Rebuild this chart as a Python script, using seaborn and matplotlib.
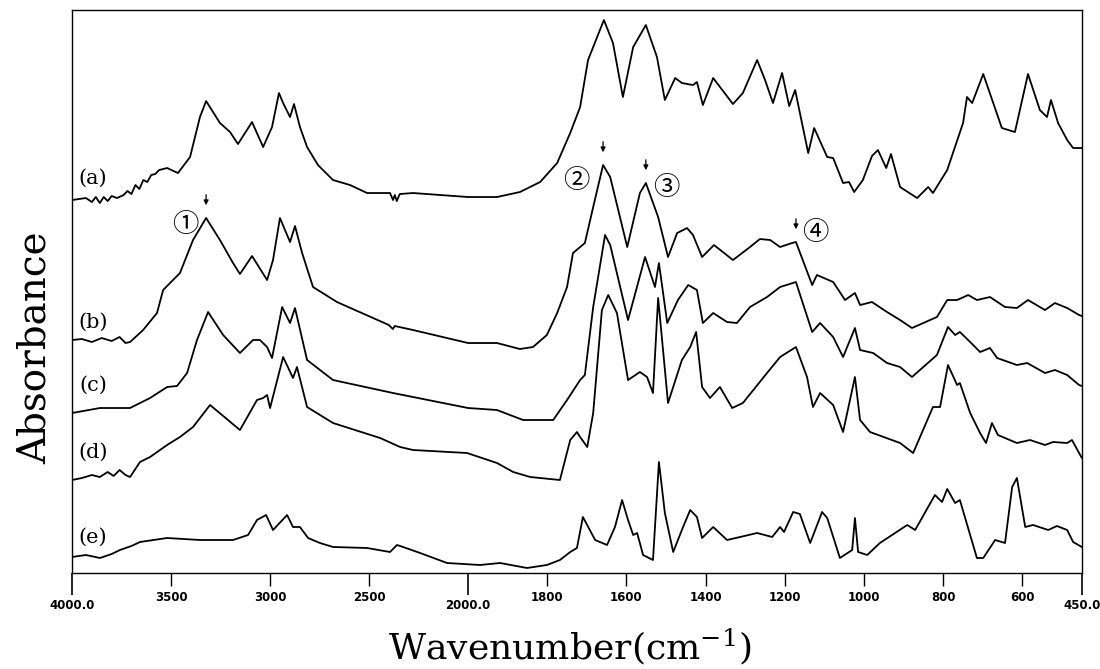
import numpy as np
import pandas as pd
import matplotlib
matplotlib.use("Agg")
import matplotlib.pyplot as plt
import seaborn as sns

# FTIR spectra (absorbance in arbitrary, offset units)
wn_a = [4000, 3930, 3900, 3880, 3860, 3840, 3820, 3800, 3773, 3740, 3720, 3700, 3680, 3660, 3640, 3620, 3600,
        3580, 3560, 3520, 3465, 3404, 3354, 3323, 3253, 3202, 3162, 3091, 3035, 2990, 2955, 2934, 2899, 2879,
        2849, 2813, 2758, 2682, 2596, 2510, 2394, 2379, 2370, 2360, 2345, 2278, 2000, 1927, 1869, 1818, 1775,
        1742, 1717, 1697, 1674, 1657, 1634, 1609, 1583, 1551, 1523, 1503, 1477, 1460, 1432, 1422, 1407, 1381,
        1331, 1306, 1270, 1250, 1230, 1207, 1189, 1174, 1141, 1126, 1093, 1078, 1053, 1038, 1025, 1003, 980,
        965, 944, 932, 909, 866, 838, 826, 790, 750, 740, 727, 699, 652, 619, 586, 556, 538, 528, 510, 487,
        472, 455, 450]
abs_a = [3.73, 3.75, 3.71, 3.76, 3.70, 3.76, 3.72, 3.77, 3.75, 3.78, 3.82, 3.79, 3.88, 3.84, 3.93, 3.91, 3.98,
         3.99, 4.03, 4.05, 4.00, 4.16, 4.56, 4.72, 4.50, 4.41, 4.29, 4.51, 4.26, 4.46, 4.80, 4.70, 4.56, 4.69,
         4.46, 4.26, 4.08, 3.93, 3.88, 3.80, 3.80, 3.73, 3.78, 3.72, 3.79, 3.80, 3.76, 3.76, 3.81, 3.91, 4.10,
         4.40, 4.66, 5.13, 5.36, 5.53, 5.30, 4.76, 5.26, 5.48, 5.16, 4.73, 4.95, 4.90, 4.88, 4.91, 4.68, 4.95,
         4.69, 4.80, 5.13, 4.93, 4.70, 5.00, 4.67, 4.83, 4.20, 4.45, 4.16, 4.15, 3.90, 3.91, 3.81, 3.93, 4.17,
         4.23, 4.05, 4.19, 3.86, 3.75, 3.86, 3.80, 4.03, 4.50, 4.76, 4.70, 4.99, 4.45, 4.41, 4.99, 4.63, 4.56,
         4.73, 4.50, 4.33, 4.25, 4.25, 4.25]

wn_b = [4000, 3950, 3900, 3850, 3800, 3760, 3730, 3707, 3641, 3571, 3540, 3455, 3389, 3323, 3253, 3187, 3152,
        3091, 3015, 2985, 2950, 2899, 2874, 2838, 2783, 2662, 2400, 2380, 2370, 2278, 2000, 1927, 1869, 1836,
        1801, 1775, 1750, 1735, 1705, 1684, 1659, 1641, 1598, 1566, 1551, 1520, 1495, 1472, 1447, 1432, 1409,
        1379, 1331, 1288, 1263, 1237, 1212, 1182, 1172, 1131, 1119, 1078, 1048, 1023, 1010, 980, 942, 909,
        879, 816, 790, 765, 737, 715, 682, 644, 614, 586, 543, 518, 487, 457, 450]
abs_b = [2.33, 2.34, 2.31, 2.35, 2.32, 2.36, 2.30, 2.31, 2.43, 2.60, 2.83, 3.00, 3.33, 3.55, 3.33, 3.10, 2.99,
         3.17, 2.93, 3.13, 3.55, 3.31, 3.47, 3.20, 2.86, 2.71, 2.48, 2.44, 2.47, 2.43, 2.30, 2.30, 2.24, 2.26,
         2.38, 2.60, 2.86, 3.20, 3.30, 3.66, 4.08, 3.96, 3.26, 3.80, 3.90, 3.56, 3.16, 3.40, 3.45, 3.38, 3.16,
         3.28, 3.13, 3.26, 3.34, 3.33, 3.26, 3.30, 3.31, 2.88, 2.98, 2.91, 2.73, 2.80, 2.68, 2.71, 2.61, 2.53,
         2.45, 2.56, 2.73, 2.73, 2.78, 2.73, 2.76, 2.66, 2.65, 2.73, 2.63, 2.70, 2.65, 2.58, 2.57]

wn_c = [4000, 3859, 3707, 3606, 3520, 3470, 3419, 3369, 3313, 3237, 3152, 3086, 3051, 3015, 2990, 2939, 2899,
        2874, 2813, 2682, 2379, 2000, 1927, 1861, 1785, 1750, 1717, 1705, 1684, 1654, 1641, 1596, 1553, 1528,
        1518, 1497, 1470, 1444, 1422, 1407, 1381, 1346, 1321, 1288, 1245, 1212, 1172, 1131, 1111, 1078, 1053,
        1023, 1010, 977, 942, 909, 879, 816, 788, 770, 758, 732, 707, 682, 664, 614, 588, 543, 518, 487, 457,
        450]
abs_c = [1.60, 1.65, 1.65, 1.75, 1.86, 1.87, 2.00, 2.33, 2.61, 2.38, 2.20, 2.33, 2.33, 2.26, 2.15, 2.66, 2.50,
         2.65, 2.13, 1.93, 1.80, 1.65, 1.63, 1.53, 1.53, 1.73, 1.93, 1.98, 2.66, 3.38, 3.28, 2.53, 3.16, 2.86,
         3.10, 2.50, 2.73, 2.88, 2.83, 2.50, 2.60, 2.51, 2.50, 2.66, 2.76, 2.86, 2.91, 2.41, 2.50, 2.36, 2.16,
         2.45, 2.23, 2.20, 2.10, 2.06, 1.96, 2.18, 2.46, 2.38, 2.41, 2.31, 2.21, 2.25, 2.15, 2.08, 2.10, 2.00,
         2.03, 1.98, 1.88, 1.87]

wn_d = [4000, 3950, 3900, 3860, 3820, 3790, 3760, 3730, 3707, 3657, 3606, 3520, 3455, 3389, 3303, 3152, 3066,
        3035, 3015, 3000, 2934, 2884, 2864, 2813, 2682, 2444, 2343, 2278, 2005, 1927, 1886, 1843, 1768, 1742,
        1725, 1717, 1699, 1684, 1662, 1646, 1624, 1596, 1566, 1548, 1533, 1520, 1495, 1460, 1439, 1424, 1409,
        1389, 1364, 1333, 1306, 1245, 1212, 1172, 1144, 1129, 1111, 1078, 1053, 1023, 1010, 985, 909, 876,
        826, 808, 788, 765, 758, 732, 707, 692, 677, 662, 614, 581, 543, 523, 487, 475, 450]
abs_d = [0.93, 0.95, 0.98, 0.96, 1.01, 0.97, 1.03, 0.98, 0.96, 1.11, 1.16, 1.28, 1.36, 1.46, 1.68, 1.43, 1.73,
         1.75, 1.78, 1.65, 2.16, 1.95, 2.06, 1.66, 1.50, 1.35, 1.26, 1.23, 1.20, 1.10, 1.01, 0.96, 0.93, 1.33,
         1.41, 1.36, 1.26, 1.60, 2.63, 2.78, 2.60, 1.93, 2.01, 1.96, 1.80, 2.75, 1.70, 2.13, 2.26, 2.41, 1.86,
         1.75, 1.86, 1.65, 1.70, 2.00, 2.16, 2.26, 1.96, 1.66, 1.80, 1.68, 1.41, 1.96, 1.53, 1.41, 1.30, 1.20,
         1.66, 1.66, 2.08, 1.88, 1.90, 1.60, 1.40, 1.30, 1.50, 1.38, 1.30, 1.33, 1.28, 1.31, 1.30, 1.33, 1.15]

wn_e = [4000, 3930, 3859, 3800, 3758, 3700, 3657, 3520, 3354, 3187, 3111, 3066, 3020, 2985, 2914, 2884, 2849,
        2808, 2748, 2682, 2510, 2394, 2359, 2328, 2242, 2106, 1970, 1919, 1851, 1801, 1768, 1742, 1725, 1710,
        1679, 1649, 1629, 1611, 1596, 1583, 1573, 1558, 1533, 1518, 1503, 1482, 1457, 1439, 1422, 1409, 1381,
        1346, 1313, 1270, 1232, 1212, 1202, 1179, 1162, 1136, 1106, 1093, 1061, 1030, 1023, 1015, 992, 960,
        891, 871, 821, 803, 790, 770, 758, 715, 699, 669, 644, 626, 614, 593, 573, 535, 513, 487, 472, 450]
abs_e = [0.16, 0.18, 0.15, 0.19, 0.23, 0.27, 0.31, 0.35, 0.33, 0.33, 0.38, 0.53, 0.58, 0.43, 0.58, 0.46, 0.46,
         0.35, 0.30, 0.26, 0.25, 0.21, 0.28, 0.26, 0.20, 0.10, 0.08, 0.10, 0.05, 0.08, 0.13, 0.21, 0.25, 0.56,
         0.33, 0.28, 0.46, 0.73, 0.53, 0.38, 0.40, 0.18, 0.13, 1.11, 0.60, 0.21, 0.46, 0.63, 0.56, 0.35, 0.46,
         0.33, 0.36, 0.40, 0.36, 0.46, 0.41, 0.61, 0.59, 0.30, 0.61, 0.55, 0.15, 0.23, 0.55, 0.21, 0.18, 0.30,
         0.48, 0.43, 0.78, 0.71, 0.84, 0.70, 0.73, 0.15, 0.15, 0.33, 0.30, 0.86, 0.95, 0.46, 0.48, 0.43, 0.47,
         0.43, 0.31, 0.26]

samples = ["(a)", "(b)", "(c)", "(d)", "(e)"]
wavenumbers = [wn_a, wn_b, wn_c, wn_d, wn_e]
absorbances = [abs_a, abs_b, abs_c, abs_d, abs_e]

# marked bands on spectrum (b)
band_labels = ["①", "②", "③", "④"]
band_wn = [3323, 1659, 1551, 1172]

major_ticks = [3500, 3000, 2500, 1800, 1600, 1400, 1200, 1000, 800, 600]
end_ticks = [4000, 2000, 450]
end_tick_labels = ["4000.0", "2000.0", "450.0"]

df = pd.concat([pd.DataFrame({"wavenumber": w, "absorbance": a, "sample": s})
                for s, w, a in zip(samples, wavenumbers, absorbances)], ignore_index=True)

sns.set_style("ticks")
plt.rcParams["font.family"] = ["DejaVu Serif", "Noto Sans CJK SC"]
plt.rcParams["mathtext.fontset"] = "dejavuserif"
plt.rcParams["text.color"] = "black"
plt.rcParams["axes.labelcolor"] = "black"
plt.rcParams["xtick.color"] = "black"
plt.rcParams["axes.edgecolor"] = "black"


# scale expanded x2 below 2000 cm-1, as on the spectrometer plot
def fwd(w):
    w = np.asarray(w, dtype=float)
    return np.where(w <= 2000, w, 2000 + (w - 2000) / 2)


def inv(u):
    u = np.asarray(u, dtype=float)
    return np.where(u <= 2000, u, 2000 + 2 * (u - 2000))


fig = plt.figure(figsize=(11, 6.69), dpi=100)
ax = fig.add_axes([0.0655, 0.1435, 0.918, 0.8415])

sns.lineplot(data=df, x="wavenumber", y="absorbance", units="sample", estimator=None,
             color="black", linewidth=1.3, ax=ax)
for ln in ax.get_lines():
    ln.set_solid_joinstyle("round")

ax.set_xscale("function", functions=(fwd, inv))
ax.set_xlim(4000, 450)
ax.set_ylim(0, 5.63)
ax.set_yticks([])

ax.set_xticks(major_ticks, [str(t) for t in major_ticks])
ax.set_xticks(end_ticks, end_tick_labels, minor=True)
ax.tick_params(axis="x", which="major", length=9, width=1, pad=4, labelsize=8.5, direction="out")
ax.tick_params(axis="x", which="minor", length=16, width=1.2, pad=3, labelsize=8.5, direction="out")
for lab in ax.get_xticklabels(which="both"):
    lab.set_family("DejaVu Sans")
    lab.set_fontweight("semibold")

for sp in ax.spines.values():
    sp.set_linewidth(1.0)

ax.set_xlabel("Wavenumber(cm$^{-1}$)", fontsize=26)
ax.set_ylabel("Absorbance", fontsize=28)
ax.xaxis.set_label_coords(0.493, -0.095)
ax.yaxis.set_label_coords(-0.018, 0.40)

# sample labels at the start of each trace
label_dy = [16, 13, 20, 20, 14]
for s, a, dy in zip(samples, absorbances, label_dy):
    ax.annotate(s, xy=(4000, a[0]), xytext=(15, dy), textcoords="offset points",
                ha="center", va="center", fontsize=15)

# arrows and circled numbers over the bands of (b)
text_off = [(-15, -5), (-19, -11), (15, -3.5), (14, 6.5)]
for lab, w, off in zip(band_labels, band_wn, text_off):
    peak = abs_b[wn_b.index(w)]
    ax.annotate("", xy=(w, peak + 0.1), xytext=(w, peak + 0.26),
                arrowprops=dict(arrowstyle="-|>", color="black", lw=0.9, mutation_scale=7))
    ax.annotate(lab, xy=(w, peak), xytext=off, textcoords="offset points",
                ha="center", va="center", fontsize=19, family=["Noto Sans CJK SC", "DejaVu Sans"])

fig.savefig("out.png", dpi=100)
